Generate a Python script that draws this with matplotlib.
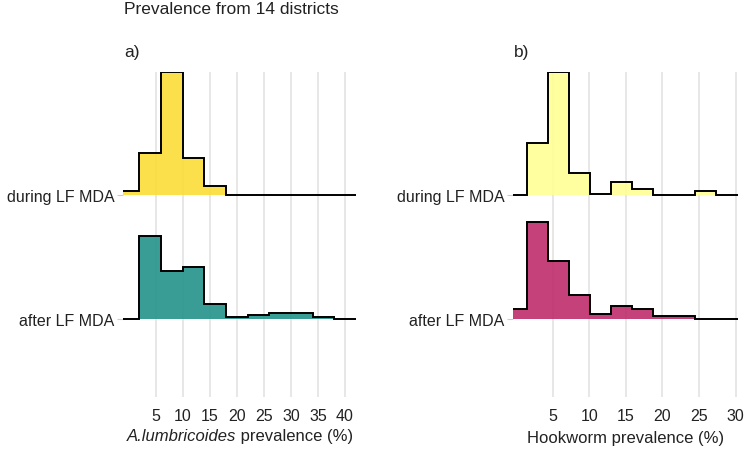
import numpy as np
import matplotlib
matplotlib.use('Agg')
from matplotlib import pyplot as plt

plt.rcParams['font.family'] = ['Liberation Sans', 'DejaVu Sans']

groups = ['after LF MDA', 'during LF MDA']

# A. lumbricoides: bins of width 4
asc_edges = [-2, 2, 6, 10, 14, 18, 22, 26, 30, 34, 38, 42]
asc_during = [0.032, 0.344, 0.994, 0.304, 0.075, 0, 0, 0, 0, 0, 0]
asc_after = [0, 0.672, 0.387, 0.422, 0.121, 0.014, 0.030, 0.046, 0.046, 0.014, 0]

# Hookworm
hw_edges = [-1.32, 1.55, 4.42, 7.29, 10.16, 13.03, 15.9, 18.77, 21.64, 24.51, 27.38, 30.25]
hw_during = [0, 0.425, 0.994, 0.183, 0.014, 0.107, 0.054, 0, 0, 0.032, 0]
hw_after = [0.078, 0.785, 0.473, 0.194, 0.040, 0.105, 0.078, 0.027, 0.027, 0, 0]

asc_ticks = [5, 10, 15, 20, 25, 30, 35, 40]
hw_ticks = [5, 10, 15, 20, 25, 30]

W, H = 747, 452
fig = plt.figure(figsize=(W / 100, H / 100), dpi=100)


def panel(px_left, px_right, xlim, edges, after, during, colors, ticks, tag):
    ax = fig.add_axes([px_left / W, (H - 398) / H, (px_right - px_left) / W, (398 - 72.7) / H])
    ax.set_xlim(*xlim)
    ax.set_ylim(-0.63, 2.0)
    for i, (vals, col) in enumerate(zip([after, during], colors)):
        vals = np.array(vals) + i
        ax.stairs(vals, edges, baseline=i, fill=True, color=col, alpha=0.9, lw=0, zorder=2 + i)
        ax.stairs(vals, edges, baseline=i, fill=False, color='black', lw=1.4, zorder=2.5 + i)
    ax.set_xticks(ticks)
    ax.set_yticks([0, 1])
    ax.set_yticklabels(groups)
    ax.grid(True, axis='x', color='#e0e0e0', lw=1.1, zorder=0)
    ax.set_axisbelow(True)
    for s in ax.spines.values():
        s.set_visible(False)
    ax.tick_params(axis='x', length=0, labelsize=11.5, pad=8, labelcolor='#222222')
    ax.tick_params(axis='y', length=4, color='#cccccc', labelsize=11.5, pad=2, labelcolor='#222222')
    fig.text((px_left + 1) / W, 1 - 53 / H, tag, fontsize=12.5, ha='left', va='center', color='#222222')
    return ax


ax1 = panel(123, 357.4, (-1.04, 42.3), asc_edges, asc_after, asc_during,
            ['#24938A', '#FBDC37'], asc_ticks, 'a)')

ax2 = panel(513, 738.6, (-0.42, 30.4), hw_edges, hw_after, hw_during,
            ['#BE2C6B', '#FFFF95'], hw_ticks, 'b)')
ax2.set_xlabel('Hookworm prevalence (%)', fontsize=12, labelpad=5, color='#222222')

# x label of panel a: italic species name + plain text, centred under the panel
r = fig.canvas.get_renderer()
lab_y = 1 - 437 / H
t1 = fig.text(0, lab_y, 'A.lumbricoides', fontsize=12, fontstyle='italic', va='center', color='#222222')
t2 = fig.text(0, lab_y, ' prevalence (%)', fontsize=12, va='center', color='#222222')
w1 = t1.get_window_extent(r).width
w2 = t2.get_window_extent(r).width
cx = (123 + 357.4) / 2
x0 = cx - (w1 + w2) / 2
t1.set_x(x0 / W)
t2.set_x((x0 + w1) / W)

fig.text(124 / W, 1 - 10 / H, 'Prevalence from 14 districts', fontsize=12.5,
         ha='left', va='center', color='#222222')

plt.savefig('out.png', dpi=100)
